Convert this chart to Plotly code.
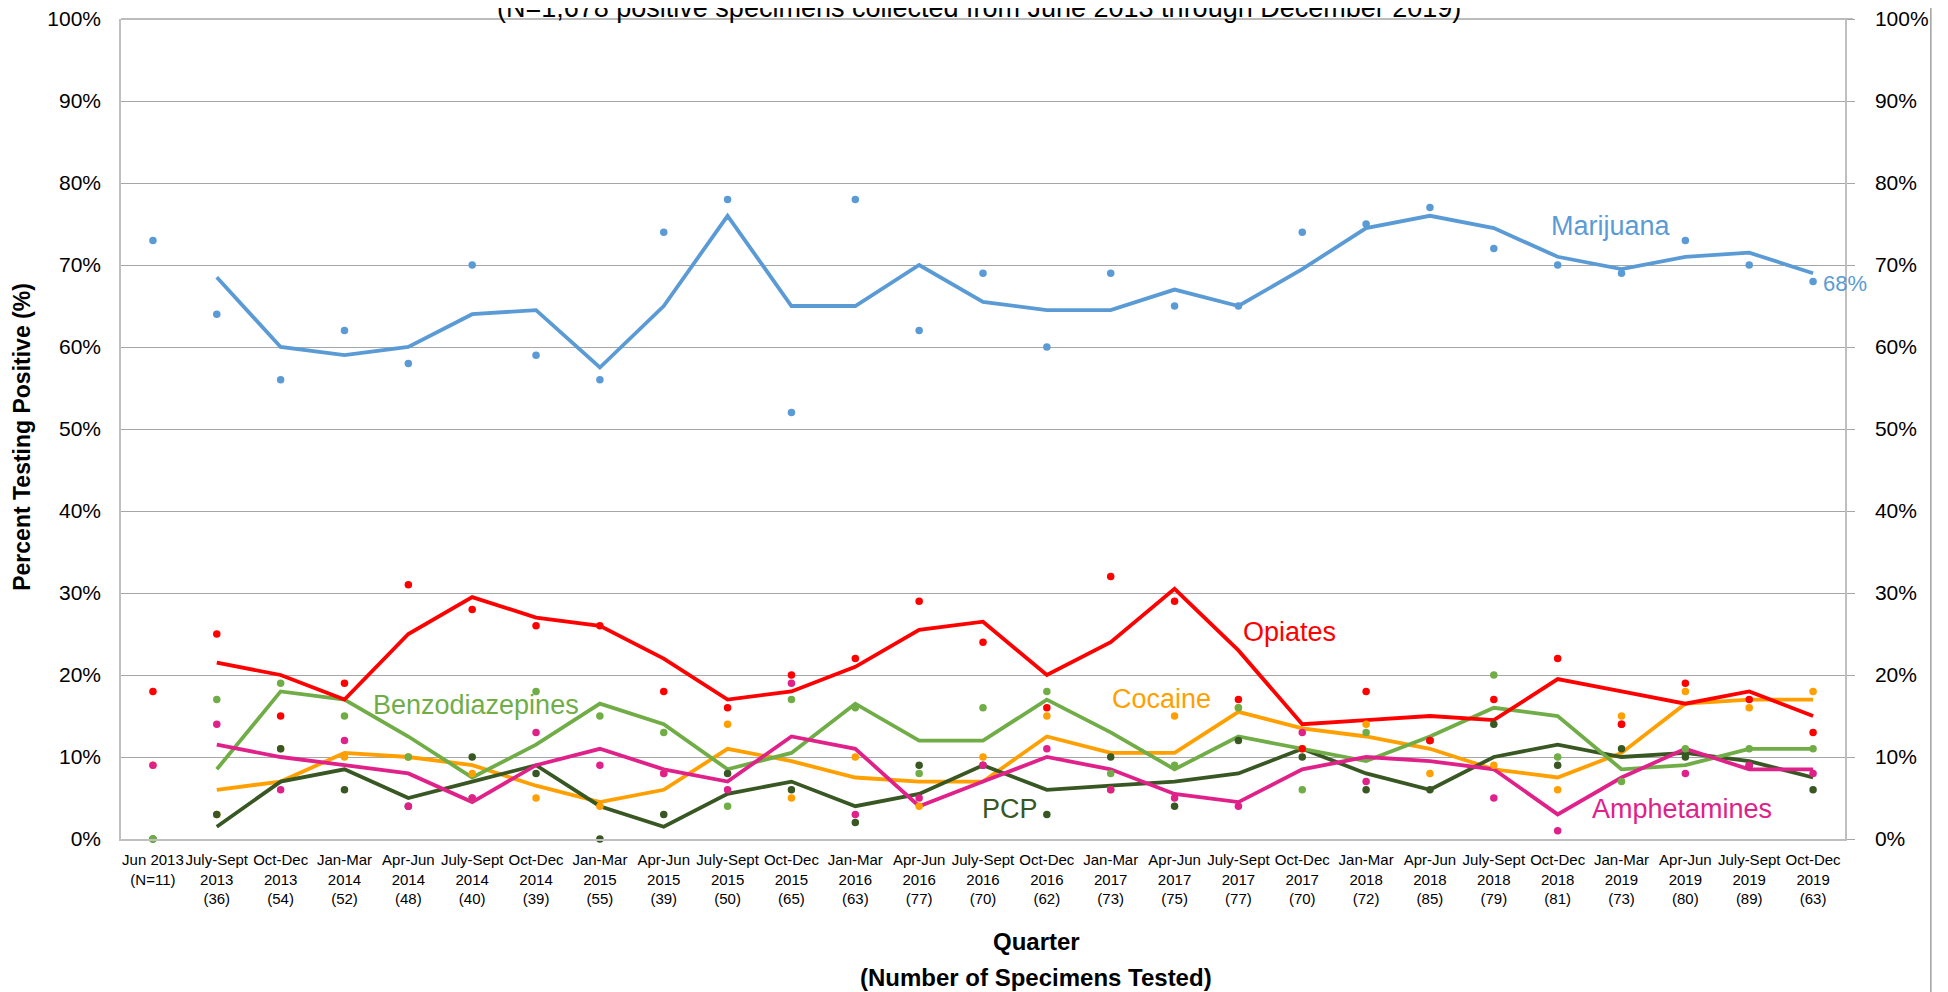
import plotly.graph_objects as go

# ---------------- data ----------------
quarters = ["Jun 2013", "July-Sept", "Oct-Dec", "Jan-Mar", "Apr-Jun", "July-Sept", "Oct-Dec",
            "Jan-Mar", "Apr-Jun", "July-Sept", "Oct-Dec", "Jan-Mar", "Apr-Jun", "July-Sept",
            "Oct-Dec", "Jan-Mar", "Apr-Jun", "July-Sept", "Oct-Dec", "Jan-Mar", "Apr-Jun",
            "July-Sept", "Oct-Dec", "Jan-Mar", "Apr-Jun", "July-Sept", "Oct-Dec"]
years = ["", "2013", "2013", "2014", "2014", "2014", "2014", "2015", "2015", "2015", "2015",
         "2016", "2016", "2016", "2016", "2017", "2017", "2017", "2017", "2018", "2018",
         "2018", "2018", "2019", "2019", "2019", "2019"]
n_tested = ["N=11", "36", "54", "52", "48", "40", "39", "55", "39", "50", "65", "63", "77", "70",
            "62", "73", "75", "77", "70", "72", "85", "79", "81", "73", "80", "89", "63"]

marijuana = [73, 64, 56, 62, 58, 70, 59, 56, 74, 78, 52, 78, 62, 69, 60, 69, 65, 65, 74, 75, 77, 72, 70, 69, 73, 70, 68]
opiates = [18, 25, 15, 19, 31, 28, 26, 26, 18, 16, 20, 22, 29, 24, 16, 32, 29, 17, 11, 18, 12, 17, 22, 14, 19, 17, 13]
benzodiazepines = [0, 17, 19, 15, 10, 5, 18, 15, 13, 4, 17, 16, 8, 16, 18, 8, 9, 16, 6, 13, 12, 20, 10, 7, 11, 11, 11]
cocaine = [9, 3, 11, 10, 10, 8, 5, 4, 8, 14, 5, 10, 4, 10, 15, 6, 15, 16, 11, 14, 8, 9, 6, 15, 18, 16, 18]
pcp = [0, 3, 11, 6, 4, 10, 8, 0, 3, 8, 6, 2, 9, 9, 3, 10, 4, 12, 10, 6, 6, 14, 9, 11, 10, 9, 6]
amphetamines = [9, 14, 6, 12, 4, 5, 13, 9, 8, 6, 19, 3, 5, 9, 11, 6, 5, 4, 13, 7, 12, 5, 1, 14, 8, 9, 8]

# trend lines
marijuana_trend = [None, 68.5, 60, 59, 60, 64, 64.5, 57.5, 65, 76, 65, 65, 70, 65.5, 64.5, 64.5, 67, 65, 69.5, 74.5, 76, 74.5, 71, 69.5, 71, 71.5, 69]
opiates_trend = [None, 21.5, 20, 17, 25, 29.5, 27, 26, 22, 17, 18, 21, 25.5, 26.5, 20, 24, 30.5, 23, 14, 14.5, 15, 14.5, 19.5, 18, 16.5, 18, 15]
benzodiazepines_trend = [None, 8.5, 18, 17, 12.5, 7.5, 11.5, 16.5, 14, 8.5, 10.5, 16.5, 12, 12, 17, 13, 8.5, 12.5, 11, 9.5, 12.5, 16, 15, 8.5, 9, 11, 11]
cocaine_trend = [None, 6, 7, 10.5, 10, 9, 6.5, 4.5, 6, 11, 9.5, 7.5, 7, 7, 12.5, 10.5, 10.5, 15.5, 13.5, 12.5, 11, 8.5, 7.5, 10.5, 16.5, 17, 17]
pcp_trend = [None, 1.5, 7, 8.5, 5, 7, 9, 4, 1.5, 5.5, 7, 4, 5.5, 9, 6, 6.5, 7, 8, 11, 8, 6, 10, 11.5, 10, 10.5, 9.5, 7.5]
amphetamines_trend = [None, 11.5, 10, 9, 8, 4.5, 9, 11, 8.5, 7, 12.5, 11, 4, 7, 10, 8.5, 5.5, 4.5, 8.5, 10, 9.5, 8.5, 3, 7.5, 11, 8.5, 8.5]

y_ticks = [0, 10, 20, 30, 40, 50, 60, 70, 80, 90, 100]

# ---------------- styling ----------------
FONT = "Liberation Sans, Arial, Helvetica, sans-serif"
C_MAR = "#5B9BD5"
C_OPI = "#FF0000"
C_BEN = "#70AD47"
C_COC = "#FF9F00"
C_PCP = "#385723"
C_AMP = "#E0218A"
GRID = "#A6A6A6"

x = list(range(len(quarters)))
ticktext = []
for q, yv, n in zip(quarters, years, n_tested):
    if yv:
        ticktext.append(f"{q}<br>{yv}<br>({n})")
    else:
        ticktext.append(f"{q}<br>({n})")

series = [
    ("Marijuana", marijuana, marijuana_trend, C_MAR),
    ("Cocaine", cocaine, cocaine_trend, C_COC),
    ("PCP", pcp, pcp_trend, C_PCP),
    ("Benzodiazepines", benzodiazepines, benzodiazepines_trend, C_BEN),
    ("Amphetamines", amphetamines, amphetamines_trend, C_AMP),
    ("Opiates", opiates, opiates_trend, C_OPI),
]

fig = go.Figure()
for name, vals, trend, col in series:
    fig.add_trace(go.Scatter(x=x, y=trend, mode="lines", name=name + " trend",
                             line=dict(color=col, width=3.8), cliponaxis=False,
                             hoverinfo="skip"))
for name, vals, trend, col in series:
    fig.add_trace(go.Scatter(x=x, y=vals, mode="markers", name=name,
                             marker=dict(color=col, size=7.5, line=dict(width=0)),
                             cliponaxis=False))

# invisible trace for the right axis
fig.add_trace(go.Scatter(x=x, y=marijuana, yaxis="y2", mode="markers",
                         marker=dict(opacity=0), hoverinfo="skip", showlegend=False))

labels = [
    ("Marijuana", 22.84, 74.7, C_MAR, 27, "center"),
    ("Opiates", 17.8, 25.2, C_OPI, 27, "center"),
    ("Benzodiazepines", 5.06, 16.4, C_BEN, 27, "center"),
    ("Cocaine", 15.8, 17.1, C_COC, 27, "center"),
    ("PCP", 13.42, 3.7, C_PCP, 27, "center"),
    ("Amphetamines", 23.95, 3.7, C_AMP, 27, "center"),
]
annotations = []
for t, ax, ay, col, sz, anc in labels:
    annotations.append(dict(x=ax, y=ay, xref="x", yref="y", text=t, showarrow=False,
                            font=dict(family=FONT, size=sz, color=col), xanchor=anc,
                            yanchor="middle"))
annotations.append(dict(x=26.13, y=67.8, xref="x", yref="y", text="68%", showarrow=False,
                        font=dict(family=FONT, size=22, color=C_MAR), xanchor="left",
                        yanchor="middle"))
annotations.append(dict(x=0.4977, y=1.0135, xref="paper", yref="paper",
                        text="(N=1,678 positive specimens collected from June 2013 through December 2019)",
                        showarrow=False, font=dict(family=FONT, size=27, color="black"),
                        xanchor="center", yanchor="middle"))
annotations.append(dict(x=0.531, y=-0.1249, xref="paper", yref="paper", text="<b>Quarter</b>",
                        showarrow=False, font=dict(family=FONT, size=24, color="black"),
                        xanchor="center", yanchor="middle"))
annotations.append(dict(x=0.531, y=-0.169, xref="paper", yref="paper",
                        text="<b>(Number of Specimens Tested)</b>",
                        showarrow=False, font=dict(family=FONT, size=24, color="black"),
                        xanchor="center", yanchor="middle"))
annotations.append(dict(x=-0.0571, y=0.49, xref="paper", yref="paper",
                        text="<b>Percent Testing Positive (%)</b>", textangle=-90,
                        showarrow=False, font=dict(family=FONT, size=23, color="black"),
                        xanchor="center", yanchor="middle"))

shapes = [
    dict(type="line", xref="paper", yref="paper", x0=-0.0682, x1=-0.0682, y0=-0.2, y1=1.05,
         line=dict(color="#A0A0A0", width=1.5)),
    dict(type="line", xref="paper", yref="paper", x0=1.0498, x1=1.0498, y0=-0.2, y1=1.05,
         line=dict(color="#A0A0A0", width=1.5)),
    # top edge of the plot area (the 100% gridline)
    dict(type="line", xref="paper", yref="paper", x0=0, x1=1.0046, y0=1, y1=1,
         line=dict(color=GRID, width=1.3), layer="below"),
]

fig.update_layout(
    width=1940, height=984,
    margin=dict(l=113, r=103, t=11, b=153, autoexpand=False),
    plot_bgcolor="white", paper_bgcolor="white",
    showlegend=False,
    font=dict(family=FONT, color="black"),
    annotations=annotations,
    shapes=shapes,
    xaxis=dict(range=[-0.5, 26.5], tickmode="array", tickvals=x, ticktext=ticktext,
               tickangle=0, automargin=False,
               tickfont=dict(family=FONT, size=15, color="black"), showgrid=False,
               showline=True, linecolor="#BFBFBF", linewidth=2, ticks="", zeroline=False,
               ticklabelstandoff=6),
    yaxis=dict(range=[0, 100], tickmode="array", tickvals=y_ticks,
               ticktext=[f"{v}%" for v in y_ticks], automargin=False,
               ticklabeloverflow="allow",
               tickfont=dict(family=FONT, size=21, color="black"),
               showgrid=True, gridcolor=GRID, gridwidth=1.3,
               showline=True, linecolor="#BFBFBF", linewidth=1.5, ticks="",
               zeroline=False, ticklabelstandoff=14),
    yaxis2=dict(range=[0, 100], overlaying="y", side="right", tickmode="array",
                tickvals=y_ticks, ticktext=[f"{v}%" for v in y_ticks], automargin=False,
                ticklabeloverflow="allow",
                tickfont=dict(family=FONT, size=21, color="black"),
                showgrid=False, showline=True, linecolor="#BFBFBF", linewidth=1.5,
                ticks="outside", ticklen=8, tickcolor=GRID, tickwidth=1.3,
                zeroline=False, ticklabelstandoff=16),
)

fig.write_html("out.html")
